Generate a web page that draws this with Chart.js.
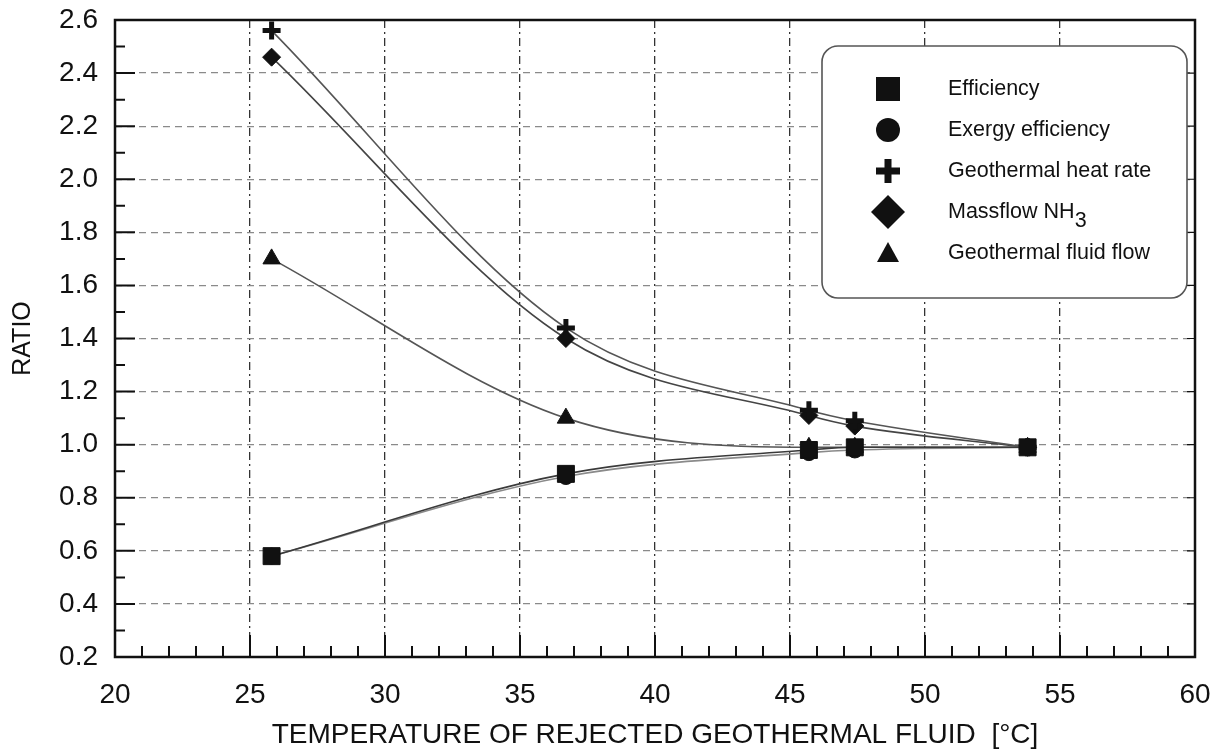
<!DOCTYPE html>
<html>
<head>
<meta charset="utf-8">
<script src="https://cdn.jsdelivr.net/npm/chart.js@4/dist/chart.umd.min.js"></script>
<style>
  body { margin: 0; background: #fff; }
  canvas { display: block; }
</style>
</head>
<body>
<canvas id="ratio-chart" width="1220" height="754"></canvas>
<script>
// temperature of rejected geothermal fluid [°C]
var tempC = [25.8, 36.7, 45.7, 47.4, 53.8];

// ratios
var efficiency       = [0.58, 0.89, 0.98, 0.99, 0.99];
var exergyEfficiency = [0.58, 0.88, 0.97, 0.98, 0.99];
var heatRate         = [2.56, 1.44, 1.13, 1.09, 0.99];
var massflowNH3      = [2.46, 1.40, 1.11, 1.07, 0.99];
var fluidFlow        = [1.70, 1.10, 0.99, 0.99, 0.99];

var seriesNames = ["Efficiency", "Exergy efficiency", "Geothermal heat rate", "Massflow NH3", "Geothermal fluid flow"];

var FONT = "'Liberation Sans', Arial, Helvetica, sans-serif";

function pts(ys) {
  return tempC.map(function(t, i) { return {x: t, y: ys[i]}; });
}

function series(label, ys, style, radius, lineColor, extra) {
  var ds = {
    label: label,
    data: pts(ys),
    showLine: true,
    cubicInterpolationMode: 'monotone',
    borderColor: lineColor,
    borderWidth: 1.6,
    pointStyle: style,
    pointRadius: radius,
    pointBackgroundColor: '#111',
    pointBorderColor: '#111',
    pointBorderWidth: 1
  };
  for (var k in extra) ds[k] = extra[k];
  return ds;
}

var datasets = [
  series(seriesNames[0], efficiency, 'rect', 12, '#3a3a3a'),
  series(seriesNames[1], exergyEfficiency, 'circle', 8, '#8a8a8a'),
  series(seriesNames[2], heatRate, 'cross', 9, '#555', {pointBorderWidth: 5}),
  series(seriesNames[3], massflowNH3, 'rectRot', 9, '#444'),
  series(seriesNames[4], fluidFlow, 'triangle', 10, '#555')
];

// inward tick marks, frame
var framePlugin = {
  id: 'frame',
  afterDatasetsDraw: function(chart) {
    var ctx = chart.ctx, a = chart.chartArea;
    var xs = chart.scales.x, ys = chart.scales.y;
    ctx.save();
    ctx.strokeStyle = '#111';
    ctx.lineWidth = 2;
    ctx.beginPath();
    for (var v = 21; v < 60; v++) {
      var px = xs.getPixelForValue(v);
      var len = (v % 5 === 0) ? 22 : 11;
      ctx.moveTo(px, a.bottom);
      ctx.lineTo(px, a.bottom - len);
    }
    for (var i = 3; i < 26; i++) {
      var py = ys.getPixelForValue(i / 10);
      var l = (i % 2 === 0) ? 20 : 10;
      ctx.moveTo(a.left, py);
      ctx.lineTo(a.left + l, py);
    }
    ctx.stroke();
    ctx.lineWidth = 1.2;
    ctx.beginPath();
    for (var j = 4; j < 26; j += 2) {
      var qy = ys.getPixelForValue(j / 10);
      ctx.moveTo(a.right, qy);
      ctx.lineTo(a.right - 8, qy);
    }
    ctx.stroke();
    ctx.lineWidth = 2.5;
    ctx.strokeRect(a.left, a.top, a.right - a.left, a.bottom - a.top);
    ctx.restore();
  }
};

function drawMarker(ctx, style, x, y) {
  ctx.fillStyle = '#111';
  ctx.beginPath();
  if (style === 'rect') {
    ctx.rect(x - 12, y - 12, 24, 24);
  } else if (style === 'circle') {
    ctx.arc(x, y, 12, 0, Math.PI * 2);
  } else if (style === 'cross') {
    ctx.rect(x - 12, y - 3.5, 24, 7);
    ctx.rect(x - 3.5, y - 12, 7, 24);
  } else if (style === 'rectRot') {
    ctx.moveTo(x, y - 17);
    ctx.lineTo(x + 17, y);
    ctx.lineTo(x, y + 17);
    ctx.lineTo(x - 17, y);
    ctx.closePath();
  } else if (style === 'triangle') {
    ctx.moveTo(x, y - 11);
    ctx.lineTo(x + 11, y + 9);
    ctx.lineTo(x - 11, y + 9);
    ctx.closePath();
  }
  ctx.fill();
}

var legendBox = {
  id: 'legendBox',
  afterDraw: function(chart) {
    var ctx = chart.ctx, a = chart.chartArea;
    var right = a.right - 8, left = right - 365, top = a.top + 26, bottom = top + 252;
    var r = 16;
    ctx.save();
    ctx.beginPath();
    ctx.moveTo(left + r, top);
    ctx.arcTo(right, top, right, bottom, r);
    ctx.arcTo(right, bottom, left, bottom, r);
    ctx.arcTo(left, bottom, left, top, r);
    ctx.arcTo(left, top, right, top, r);
    ctx.closePath();
    ctx.fillStyle = '#fff';
    ctx.fill();
    ctx.strokeStyle = '#555';
    ctx.lineWidth = 1.6;
    ctx.stroke();

    ctx.font = '21.5px ' + FONT;
    ctx.textBaseline = 'middle';
    ctx.textAlign = 'left';
    chart.data.datasets.forEach(function(ds, i) {
      var y = top + 43 + i * 41;
      drawMarker(ctx, ds.pointStyle, left + 66, y);
      ctx.fillStyle = '#111';
      var tx = left + 126;
      if (ds.label === 'Massflow NH3') {
        ctx.fillText('Massflow NH', tx, y);
        var w = ctx.measureText('Massflow NH').width;
        ctx.fillText('3', tx + w, y + 9);
      } else {
        ctx.fillText(ds.label, tx, y);
      }
    });
    ctx.restore();
  }
};

window.onload = function() {
  var canvas = document.getElementById('ratio-chart');
  new Chart(canvas, {
    type: 'scatter',
    data: { datasets: datasets },
    options: {
      responsive: false,
      animation: false,
      layout: { padding: { top: 20, right: 25, left: 0, bottom: 0 } },
      plugins: { legend: { display: false }, tooltip: { enabled: false } },
      scales: {
        x: {
          type: 'linear', min: 20, max: 60,
          ticks: { stepSize: 5, color: '#111', padding: 21, maxRotation: 0, font: { size: 28, family: FONT } },
          grid: {
            drawTicks: false, lineWidth: 1.3,
            color: function(c) { return (c.tick && (c.tick.value === 20 || c.tick.value === 60)) ? 'rgba(0,0,0,0)' : '#333'; }
          },
          border: { display: false, dash: [8, 4, 2, 4] },
          title: {
            display: true, text: 'TEMPERATURE OF REJECTED GEOTHERMAL FLUID  [°C]',
            color: '#111', font: { size: 28, family: FONT }, padding: { top: 0, bottom: 2 }
          },
          afterFit: function(s) { s.height = 97; s.paddingLeft = 0; s.paddingRight = 0; }
        },
        y: {
          type: 'linear', min: 0.2, max: 2.6,
          ticks: {
            stepSize: 0.2, color: '#111', padding: 17, font: { size: 28, family: FONT },
            callback: function(v) { return Number(v).toFixed(1); }
          },
          grid: {
            drawTicks: false, lineWidth: 1.3,
            color: function(c) { return (c.tick && (Math.abs(c.tick.value - 0.2) < 1e-6 || Math.abs(c.tick.value - 2.6) < 1e-6)) ? 'rgba(0,0,0,0)' : '#8a8a8a'; }
          },
          border: { display: false, dash: [7, 5] },
          title: {
            display: true, text: 'RATIO', color: '#111',
            font: { size: 25, family: FONT }, padding: { top: 8, bottom: 0 }
          },
          afterFit: function(s) { s.width = 115; s.paddingTop = 0; s.paddingBottom = 0; }
        }
      }
    },
    plugins: [framePlugin, legendBox]
  });
};
</script>
</body>
</html>
